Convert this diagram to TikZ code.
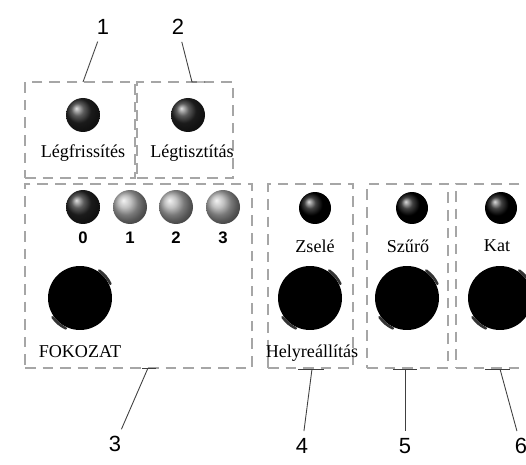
\documentclass[tikz,border=0pt]{standalone}
\usepackage{fontspec}
\setmainfont{Liberation Serif}
\newfontfamily\numfont{Liberation Sans}
\usetikzlibrary{positioning, calc}

\begin{document}
\begin{tikzpicture}[x=0.02cm, y=-0.02cm,
    panel/.style={draw=gray!70, line width=0.7pt, dash pattern=on 6pt off 4pt, inner sep=0pt},
    knob/.style={circle, minimum size=0.68cm, inner sep=0pt, shading=ball, ball color=#1},
    bigknob/.style={circle, minimum size=1.28cm, inner sep=0pt, fill=black},
    lab/.style={font=\fontsize{10.3}{12}\selectfont, inner sep=1pt},
    callout/.style={font=\numfont\fontsize{12.5}{14}\selectfont, inner sep=1pt},
    level/.style={font=\numfont\bfseries\fontsize{9.5}{10}\selectfont, inner sep=0pt},
    leader/.style={draw=gray!50!black, line width=0.5pt, shorten <=3pt}]
    \useasboundingbox (0,0) rectangle (526,465);

    % dashed panels
    \node[panel, minimum width=2.2cm, minimum height=1.92cm] (p1) at (80,130) {};
    \node[panel, minimum width=1.92cm, minimum height=1.92cm] (p2) at (185,130) {};
    \node[panel, minimum width=4.54cm, minimum height=3.68cm] (p3) at (138.5,276) {};
    \node[panel, minimum width=1.7cm, minimum height=3.68cm] (p4) at (310.5,276) {};
    \node[panel, minimum width=1.62cm, minimum height=3.68cm] (p5) at (407.5,276) {};
    \node[panel, minimum width=1.78cm, minimum height=3.68cm] (p6) at (500.5,276) {};

    % top row
    \node[knob=black!85] (k1) at (83,115) {};
    \node[knob=black!85] (k2) at (188,115) {};
    \node[lab] (l1) at (83,153) {Légfrissítés};
    \node[lab] (l2) at (192,153) {Légtisztítás};

    % fokozat
    \node[knob=black!85] (s0) at (83,207) {};
    \node[knob=gray!65] (s1) at (130,207) {};
    \node[knob=gray!65] (s2) at (176,207) {};
    \node[knob=gray!65] (s3) at (223,207) {};
    \node[level] (d0) at (83,238) {0};
    \node[level] (d1) at (130,238) {1};
    \node[level] (d2) at (176,238) {2};
    \node[level] (d3) at (223,238) {3};
    \node[bigknob] (big3) at (80,298) {};
    \node[lab] (l3) at (80,352) {FOKOZAT};

    % right panels
    \node[knob=black, minimum size=0.64cm] (k4) at (315,208) {};
    \node[knob=black, minimum size=0.64cm] (k5) at (412,208) {};
    \node[knob=black, minimum size=0.64cm] (k6) at (501,208) {};
    \node[lab] (l4) at (315,246) {Zselé};
    \node[lab] (l5) at (408,246) {Szűrő};
    \node[lab] (l6) at (497,246) {Kat};
    \node[bigknob] (big4) at (310,298) {};
    \node[bigknob] (big5) at (407,298) {};
    \node[bigknob] (big6) at (500,298) {};
    \node[lab] (l7) at (312,353) {Helyreállítás};

    \foreach \k in {big3,big4,big5,big6} {
        \draw[black!80, line width=1.5pt, line cap=round] (\k.center) ++(25:0.67cm) arc[start angle=25, end angle=55, radius=0.67cm];
        \draw[black!80, line width=1.5pt, line cap=round] (\k.center) ++(215:0.67cm) arc[start angle=215, end angle=245, radius=0.67cm];
    }

    % callouts
    \node[callout] (n1) at (103,27) {1};
    \node[callout] (n2) at (178,27) {2};
    \node[callout] (n3) at (115,444) {3};
    \node[callout] (n4) at (302,446) {4};
    \node[callout] (n5) at (405,446) {5};
    \node[callout] (n6) at (521,446) {6};

    \coordinate (t1) at (83,82);
    \coordinate (t2) at (192,82);
    \coordinate (t3) at (148,368);
    \coordinate (t4) at (312,369);
    \coordinate (t5) at (405,369);
    \coordinate (t6) at (500,369);

    \draw[leader] (n1) -- (t1);
    \draw[leader] (n2) -- (t2) -- ++(13,0);
    \draw[leader] (n3) -- (t3);
    \draw[leader] (n4) -- (t4);
    \draw[leader] (n5) -- (t5);
    \draw[leader] (n6) -- (t6);
    \draw[leader, shorten <=0pt] ($(t3)+(-6,0)$) -- ++(14,0);
    \draw[leader, shorten <=0pt] ($(t4)+(-14,0)$) -- ++(26,0);
    \draw[leader, shorten <=0pt] ($(t5)+(-12,0)$) -- ++(24,0);
    \draw[leader, shorten <=0pt] ($(t6)+(-15,0)$) -- ++(25,0);
\end{tikzpicture}
\end{document}
